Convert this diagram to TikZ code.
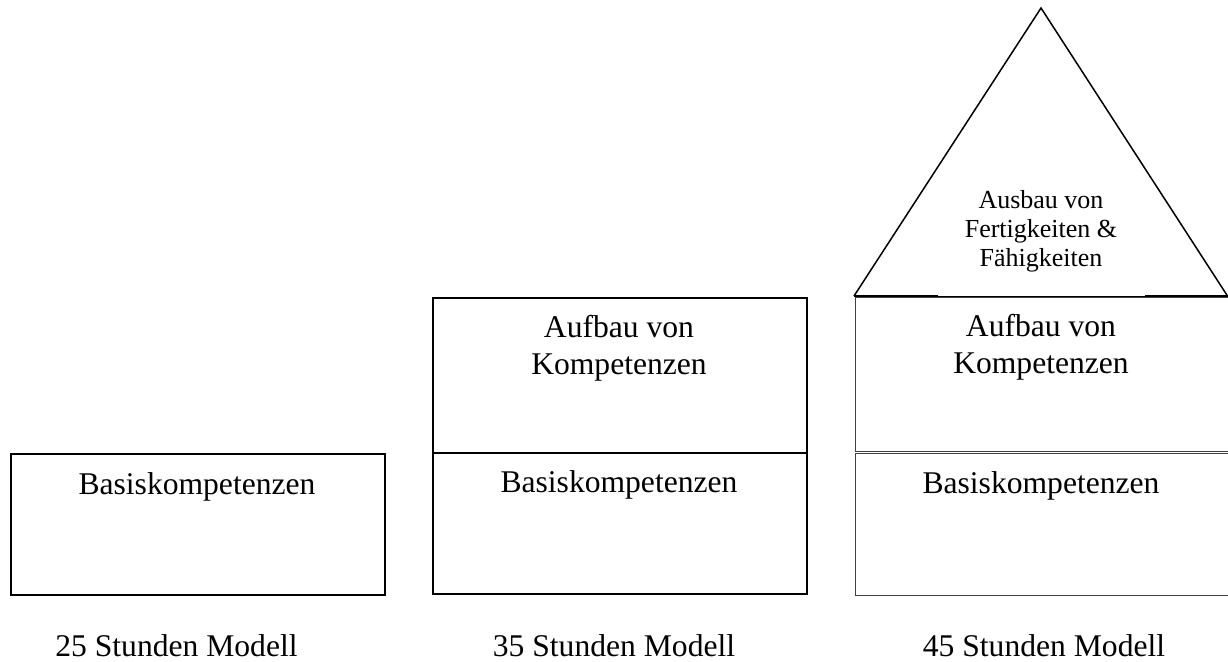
\documentclass[tikz,border=0pt]{standalone}
\usepackage{fontspec}
\setmainfont{Liberation Serif}
\begin{document}
\begin{tikzpicture}[x=1pt,y=-1pt,
  boldbox/.style={draw=black,line width=2pt,rectangle,inner sep=0pt,anchor=north west},
  thinbox/.style={draw=black!75,line width=1pt,rectangle,inner sep=0pt,anchor=north west},
  boxtext/.style={font=\fontsize{31.6}{37}\selectfont,align=center,inner sep=0pt,anchor=base},
  rooftext/.style={font=\fontsize{26}{29}\selectfont,align=center,inner sep=0pt,anchor=base}]
\useasboundingbox (0,0) rectangle (1228,661);
% column 1
\node[boldbox,minimum width=374pt,minimum height=141pt] (b1) at (10,453) {};
\node[boxtext] (t1) at (197,494) {Basiskompetenzen};
% column 2
\node[boldbox,minimum width=374pt,minimum height=155pt] (a2) at (432,297) {};
\node[boldbox,minimum width=374pt,minimum height=141pt] (b2) at (432,452) {};
\node[boxtext] (ta2) at (619,374) {Aufbau von\\Kompetenzen};
\node[boxtext] (tb2) at (619,492) {Basiskompetenzen};
% column 3
\node[thinbox,minimum width=373pt,minimum height=154pt] (a3) at (854.5,297) {};
\node[thinbox,minimum width=373pt,minimum height=142pt] (b3) at (854.5,453) {};
\node[boxtext] (ta3) at (1041,373) {Aufbau von\\Kompetenzen};
\node[boxtext] (tb3) at (1041,493) {Basiskompetenzen};
\coordinate (apex) at (1041,8);
\coordinate (bl) at (854,296);
\coordinate (br) at (1227.5,296);
\draw[line width=1.5pt,line join=miter] (bl) -- (apex) -- (br);
\draw[line width=1.5pt] (bl) -- (938,296);
\draw[line width=1.5pt] (1145,296) -- (br);
\draw[line width=1pt] (938,296) -- (1145,296);
\node[rooftext] (tr) at (1041,266) {Ausbau von\\Fertigkeiten \&\\Fähigkeiten};
% captions
\node[boxtext] (c1) at (176.5,656) {25 Stunden Modell};
\node[boxtext] (c2) at (614,656) {35 Stunden Modell};
\node[boxtext] (c3) at (1044,656) {45 Stunden Modell};
\end{tikzpicture}
\end{document}
